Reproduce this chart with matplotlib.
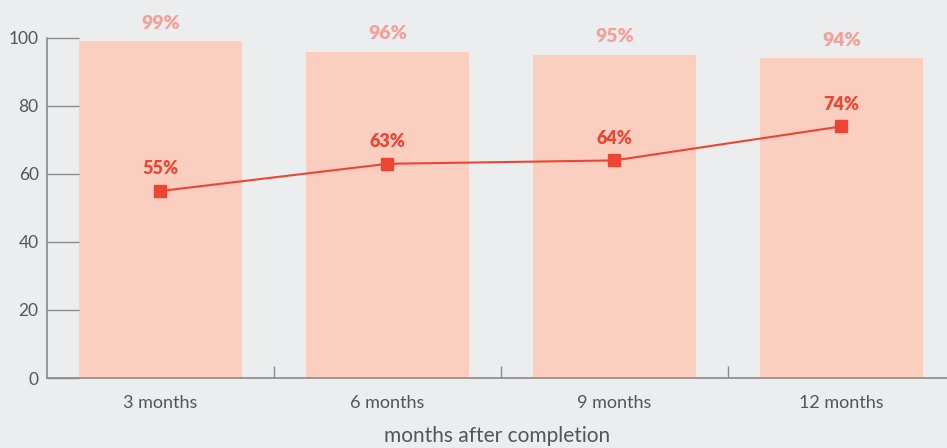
import numpy as np
import matplotlib.pyplot as plt

# data
categories = ['3 months', '6 months', '9 months', '12 months']
bar_values = [99, 96, 95, 94]
line_values = [55, 63, 64, 74]
y_ticks = [0, 20, 40, 60, 80, 100]

bg = '#ecedef'
bar_color = '#fbcfbf'
bar_text = '#f4a098'
line_color = '#ee4433'
axis_color = '#8a8a8a'
text_color = '#555555'

plt.rcParams['font.family'] = ['Lato', 'DejaVu Sans']

fig = plt.figure(figsize=(9.47, 4.48), dpi=100, facecolor=bg)
ax = fig.add_axes([47 / 947, 70 / 448, 900 / 947, 340 / 448])
ax.set_facecolor(bg)

x = np.arange(len(categories))
ax.bar(x, bar_values, width=0.72, color=bar_color, zorder=1)
ax.plot(x, line_values, color=line_color, lw=1.5, marker='s', ms=8,
        zorder=3)

for xi, v in zip(x, bar_values):
    ax.annotate(f'{v}%', (xi, v), xytext=(0, 7), textcoords='offset points',
                ha='center', va='bottom', color=bar_text, fontsize=14,
                fontweight='heavy')
for xi, v in zip(x, line_values):
    ax.annotate(f'{v}%', (xi, v), xytext=(0, 10), textcoords='offset points',
                ha='center', va='bottom', color=line_color, fontsize=13,
                fontweight='heavy')

ax.set_xlim(-0.5, 3.465)
ax.set_ylim(0, 100)
ax.set_yticks(y_ticks)
ax.set_xticks(x)
ax.set_xticklabels(categories)
ax.set_xticks(x[:-1] + 0.5, minor=True)

ax.tick_params(axis='y', direction='in', length=23, width=1, color=axis_color,
               labelcolor=text_color, labelsize=12.5, pad=6)
ax.tick_params(axis='x', which='major', length=0, labelcolor=text_color,
               labelsize=13, pad=12)
ax.tick_params(axis='x', which='minor', direction='in', length=9, width=1,
               color=axis_color)

for s in ['top', 'right']:
    ax.spines[s].set_visible(False)
for s in ['left', 'bottom']:
    ax.spines[s].set_color(axis_color)
    ax.spines[s].set_linewidth(1.2)

ax.set_xlabel('months after completion', color=text_color, fontsize=15,
              labelpad=11)

fig.savefig('out.png', dpi=100, facecolor=bg)
